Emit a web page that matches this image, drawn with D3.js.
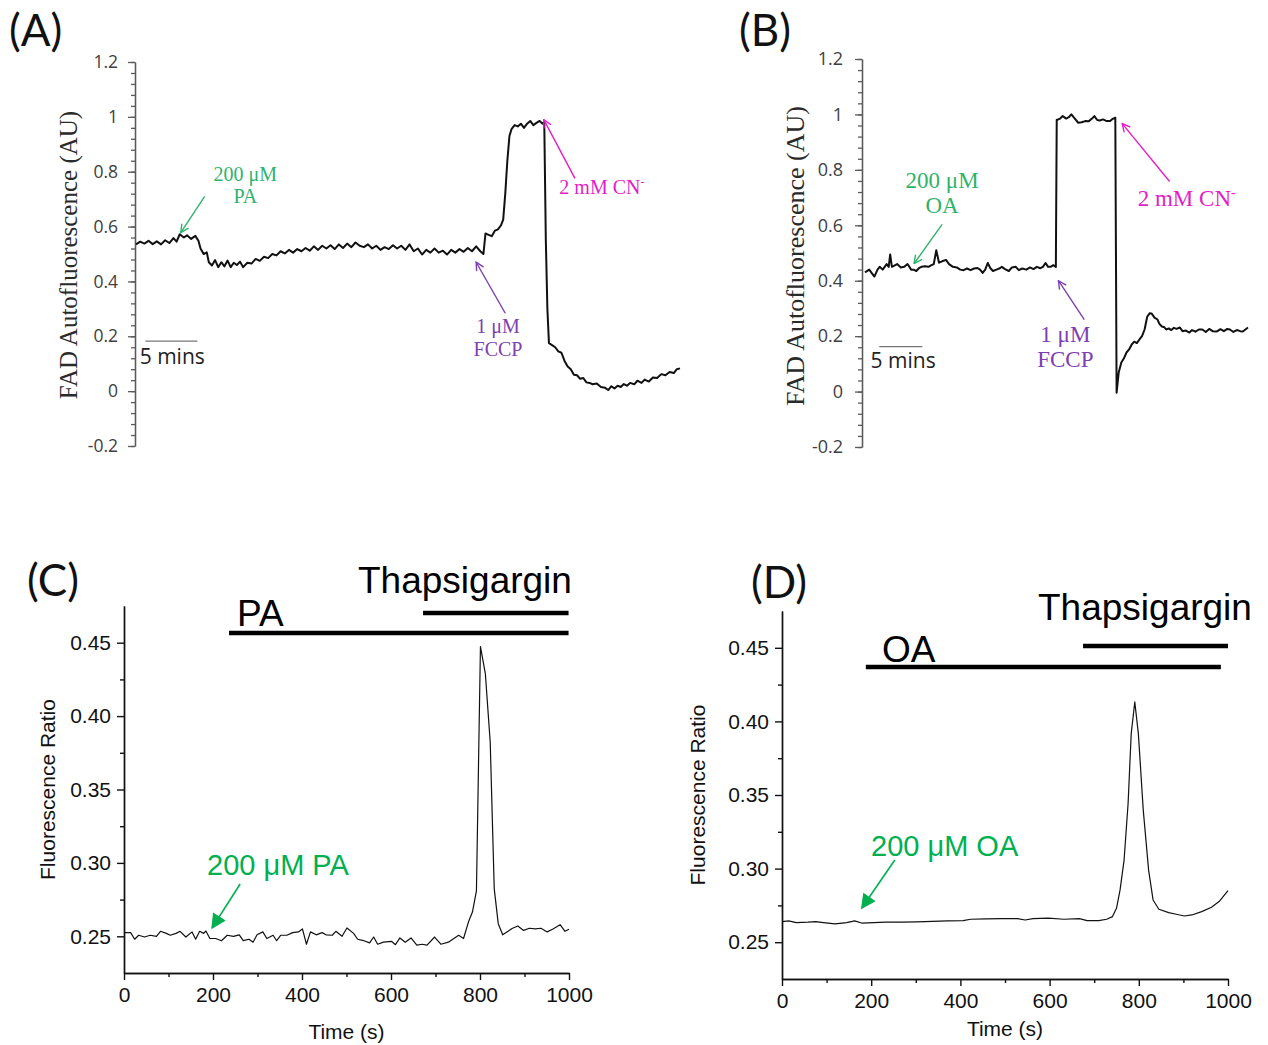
<!DOCTYPE html>
<html>
<head>
<meta charset="utf-8">
<title>FAD autofluorescence and Ca2+ ratio</title>
<script src="https://d3js.org/d3.v7.min.js"></script>
<style>
body { margin: 0; background: #fff; }
</style>
</head>
<body>
<div id="chart"></div>
<script>
// ---- panel A : FAD autofluorescence, PA (time in minutes) ----
const timeA = [0.1,0.5,0.9,1.3,1.7,2.1,2.5,2.9,3.3,3.7,4.0,4.3,4.7,5.0,5.4,5.8,6.1,6.3,6.6,6.9,7.1,7.4,7.7,8.0,8.3,8.6,8.9,9.2,9.5,9.8,
  10.1,10.4,10.8,11.2,11.6,12.0,12.4,12.8,13.2,13.6,14.0,14.4,14.8,15.2,15.6,16.0,16.4,16.8,17.2,17.6,18.0,18.4,18.8,19.2,19.6,20.0,20.4,20.8,21.2,21.6,
  22.0,22.4,22.8,23.2,23.6,24.0,24.4,24.8,25.2,25.6,26.0,26.4,26.8,27.2,27.6,28.0,28.4,28.8,29.2,29.6,30.0,30.4,30.8,31.2,31.6,32.0,32.4,32.8,33.2,33.5,
  33.7,34.0,34.3,34.6,34.9,35.2,35.4,35.6,35.8,36.0,36.2,36.5,36.8,37.1,37.4,37.7,38.0,38.3,38.6,38.9,39.2,39.35,39.5,39.65,39.8,40.1,40.4,40.7,41.0,41.3,
  41.6,41.9,42.2,42.5,42.8,43.1,43.4,43.7,44.0,44.4,44.8,45.2,45.5,45.8,46.1,46.4,46.7,47.0,47.3,47.6,48.0,48.3,48.7,49.0,49.4,49.8,50.2,50.6,51.0,51.4,
  51.8,52.1,52.4];
const fadA = [0.535,0.545,0.538,0.548,0.536,0.546,0.535,0.55,0.54,0.558,0.545,0.572,0.56,0.568,0.555,0.566,0.548,0.52,0.5,0.506,0.47,0.458,0.478,0.452,0.47,0.455,0.476,0.452,0.468,0.46,
  0.472,0.452,0.468,0.465,0.482,0.475,0.49,0.485,0.5,0.495,0.51,0.502,0.515,0.505,0.518,0.51,0.522,0.512,0.528,0.515,0.53,0.52,0.532,0.518,0.535,0.522,0.538,0.525,0.542,0.53,
  0.525,0.535,0.52,0.53,0.515,0.525,0.518,0.532,0.52,0.53,0.515,0.535,0.51,0.52,0.498,0.515,0.505,0.52,0.505,0.512,0.498,0.515,0.505,0.518,0.508,0.522,0.51,0.528,0.51,0.5,
  0.575,0.57,0.565,0.585,0.59,0.605,0.625,0.72,0.84,0.93,0.955,0.97,0.965,0.975,0.96,0.975,0.985,0.97,0.978,0.985,0.975,0.98,0.55,0.3,0.175,0.168,0.16,0.145,0.14,0.11,
  0.09,0.08,0.06,0.058,0.045,0.048,0.032,0.03,0.025,0.028,0.015,0.012,0.004,0.018,0.01,0.02,0.015,0.026,0.02,0.03,0.025,0.038,0.03,0.042,0.035,0.05,0.048,0.062,0.058,0.07,
  0.066,0.08,0.083];

// ---- panel B : FAD autofluorescence, OA (time in minutes) ----
const timeB = [0.35,0.84,1.2,1.44,1.8,2.05,2.4,2.86,3.1,3.27,3.47,3.8,4.08,4.5,4.88,5.29,5.7,6.0,6.3,6.6,6.9,7.3,7.72,8.0,8.33,8.62,8.94,9.3,9.75,10.1,
  10.56,11.0,11.4,11.78,12.2,12.6,13.0,13.4,13.7,14.0,14.3,14.6,14.9,15.2,15.6,16.0,16.23,16.6,17.04,17.4,17.85,18.2,18.6,19.07,19.5,19.9,20.3,20.7,21.0,21.3,
  21.6,21.9,22.2,22.5,22.6,23.0,23.3,23.7,24.0,24.3,24.7,25.1,25.5,25.9,26.3,26.7,26.97,27.3,27.6,27.98,28.4,28.8,29.1,29.4,29.55,29.8,30.1,30.4,30.7,31.0,
  31.3,31.6,31.9,32.2,32.5,32.8,33.1,33.4,33.6,33.95,34.3,34.5,34.8,35.1,35.3,35.6,35.9,36.2,36.5,36.9,37.2,37.6,38.0,38.3,38.7,39.1,39.5,39.9,40.3,40.7,
  41.2,41.6,42.0,42.4,42.7,43.1,43.5,43.9,44.2,44.5,44.8];
const fadB = [0.43,0.44,0.425,0.415,0.44,0.45,0.44,0.46,0.45,0.495,0.45,0.455,0.46,0.448,0.45,0.46,0.44,0.44,0.435,0.445,0.45,0.452,0.45,0.455,0.46,0.51,0.465,0.47,0.475,0.46,
  0.45,0.448,0.44,0.438,0.444,0.438,0.444,0.446,0.44,0.428,0.44,0.464,0.445,0.435,0.44,0.445,0.45,0.442,0.435,0.448,0.45,0.438,0.444,0.44,0.448,0.442,0.45,0.445,0.45,0.464,
  0.45,0.45,0.456,0.45,0.98,0.985,0.994,0.985,0.99,1.0,0.985,0.97,0.972,0.976,0.975,0.985,0.994,0.98,0.978,0.982,0.976,0.976,0.984,0.988,-0.004,0.07,0.105,0.12,0.141,0.152,
  0.17,0.18,0.175,0.188,0.2,0.224,0.27,0.283,0.282,0.267,0.26,0.245,0.235,0.232,0.224,0.228,0.222,0.23,0.226,0.231,0.218,0.22,0.213,0.222,0.216,0.224,0.224,0.215,0.226,0.218,
  0.217,0.225,0.218,0.226,0.224,0.215,0.222,0.218,0.217,0.224,0.231];

// ---- panel C : Fluorescence ratio, PA (time in s) ----
const timeC = [2,15,24,33,46,59,73,82,95,104,117,126,139,153,161,170,179,184,193,206,219,232,246,259,268,281,290,299,312,321,
  335,343,352,366,379,392,401,410,419,432,445,454,468,476,490,501,516,525,539,552,561,570,583,601,610,620,632,645,658,670,
  681,698,712,729,752,763,774,783,792,801,812,823,832,841,851,863,872,885,898,911,924,937,951,964,980,991,1000];
const ratioC = [0.2525,0.2525,0.248,0.2507,0.2495,0.2507,0.25,0.2534,0.252,0.2507,0.252,0.2534,0.2495,0.253,0.248,0.2534,0.252,0.2536,0.2485,0.2485,0.247,0.2507,0.25,0.251,0.247,0.248,0.246,0.251,0.253,0.2485,
  0.2507,0.247,0.2507,0.2507,0.2525,0.253,0.255,0.2446,0.253,0.251,0.2525,0.251,0.2507,0.2534,0.25,0.2557,0.252,0.248,0.247,0.2455,0.2495,0.2446,0.246,0.2466,0.2443,0.2489,0.246,0.2489,0.244,0.2446,
  0.244,0.2495,0.2446,0.246,0.2507,0.2485,0.2597,0.2665,0.281,0.4473,0.429,0.382,0.2823,0.2586,0.251,0.2534,0.2553,0.257,0.254,0.2555,0.255,0.2555,0.253,0.255,0.2579,0.2534,0.2548];

// ---- panel D : Fluorescence ratio, OA (time in s) ----
const timeD = [0,15,32,58,76,93,119,145,163,180,206,232,267,302,337,371,406,423,458,493,528,545,563,597,632,667,684,710,728,741,
  750,758,767,776,783,791,799,810,822,832,845,867,884,902,919,941,963,980,1000];
const ratioD = [0.264,0.2645,0.2633,0.2636,0.264,0.2633,0.2624,0.2633,0.2645,0.2629,0.2633,0.2636,0.2636,0.2638,0.2642,0.2645,0.2647,0.2656,0.2658,0.266,0.266,0.2651,0.266,0.2663,0.2656,0.266,0.2647,0.2647,0.2656,0.2674,
  0.273,0.2855,0.3058,0.3442,0.3917,0.4132,0.3917,0.3397,0.299,0.2787,0.2724,0.2701,0.269,0.2678,0.2685,0.2708,0.2737,0.2776,0.285];

// ---- ticks ----
const fadTicks = [-0.2, 0, 0.2, 0.4, 0.6, 0.8, 1, 1.2];
const ratioTicks = [0.25, 0.30, 0.35, 0.40, 0.45];
const ratioMinor = [0.275, 0.325, 0.375, 0.425];
const timeTicks = [0, 200, 400, 600, 800, 1000];
const timeMinor = [100, 300, 500, 700, 900];

const svg = d3.select("#chart").append("svg")
  .attr("width", 1268).attr("height", 1045)
  .style("background", "#fff");

const green = "#2fb36b", purple = "#7d3fb2", magenta = "#e21fc4", brightGreen = "#00b050";

const defs = svg.append("defs");
function openHead(id, color) {
  defs.append("marker").attr("id", id)
    .attr("viewBox", "0 0 10 10").attr("refX", 9).attr("refY", 5)
    .attr("markerWidth", 10).attr("markerHeight", 10)
    .attr("markerUnits", "userSpaceOnUse").attr("orient", "auto")
    .append("path").attr("d", "M1,1 L9,5 L1,9")
    .attr("fill", "none").attr("stroke", color).attr("stroke-width", 1.4);
}
openHead("hGreen", green);
openHead("hPurple", purple);
openHead("hMagenta", magenta);
defs.append("marker").attr("id", "hFill")
  .attr("viewBox", "0 0 10 10").attr("refX", 9).attr("refY", 5)
  .attr("markerWidth", 17).attr("markerHeight", 15)
  .attr("markerUnits", "userSpaceOnUse").attr("orient", "auto")
  .append("path").attr("d", "M0,0 L10,5 L0,10 Z").attr("fill", brightGreen);

function panelLetter(txt, x, y) {
  svg.append("text").attr("x", x).attr("y", y).text(txt)
    .style("font-family", "Lato, 'Open Sans', sans-serif").style("font-size", "44px").attr("fill", "#111");
}

// FAD autofluorescence panels (A, B)
function drawFad(o) {
  const x = d3.scaleLinear().domain([0, o.tMax]).range([o.x0, o.x1]);
  const y = d3.scaleLinear().domain([-0.2, 1.2]).range([o.yB, o.yT]);
  const g = svg.append("g");

  g.append("g").attr("transform", `translate(${o.x0},0)`)
    .call(d3.axisLeft(y).tickValues(d3.range(-0.2, 1.2001, 0.04)).tickSize(4).tickSizeOuter(0).tickFormat(""));
  const major = g.append("g").attr("transform", `translate(${o.x0},0)`)
    .call(d3.axisLeft(y).tickValues(fadTicks).tickSize(7).tickSizeOuter(0).tickPadding(o.pad)
      .tickFormat(d => String(+d.toFixed(1))));
  g.selectAll(".domain, .tick line").attr("stroke", "#5a5a5a").attr("stroke-width", 1.3);
  major.selectAll("text").attr("fill", "#404040")
    .style("font-family", "'Open Sans', sans-serif").style("font-size", o.tickFs + "px");

  g.append("text")
    .attr("transform", `translate(${o.labX},${o.labY}) rotate(-90)`)
    .attr("text-anchor", "middle").attr("dominant-baseline", "central")
    .style("font-family", "'Liberation Serif', serif").style("font-size", o.labFs + "px")
    .attr("fill", "#2a2a2a").text("FAD Autofluorescence (AU)");

  g.append("path").datum(o.vals)
    .attr("fill", "none").attr("stroke", "#111").attr("stroke-width", 2)
    .attr("stroke-linejoin", "round")
    .attr("d", d3.line().x((d, i) => x(o.times[i])).y(d => y(d)));

  // 5 min scale bar
  g.append("line").attr("x1", x(o.bar[0])).attr("x2", x(o.bar[0] + 5))
    .attr("y1", y(o.bar[1])).attr("y2", y(o.bar[1]))
    .attr("stroke", "#777").attr("stroke-width", 1.2);
  g.append("text").attr("x", x(o.barText[0])).attr("y", y(o.barText[1]))
    .style("font-family", "'Open Sans', sans-serif").style("font-size", o.barFs + "px")
    .attr("fill", "#222").text("5 mins");

  // annotations
  o.notes.forEach(n => {
    g.append("line")
      .attr("x1", x(n.from[0])).attr("y1", y(n.from[1]))
      .attr("x2", x(n.to[0])).attr("y2", y(n.to[1]))
      .attr("stroke", n.color).attr("stroke-width", 1.4)
      .attr("marker-end", `url(#${n.head})`);
    n.lines.forEach((s, k) => {
      const t = g.append("text").attr("x", x(n.text[0])).attr("y", y(n.text[1]) + k * n.lh)
        .attr("text-anchor", n.anchor)
        .style("font-family", "'Liberation Serif', serif").style("font-size", o.noteFs + "px")
        .attr("fill", n.color).text(s);
      if (n.sup && k === 0) {
        t.append("tspan").attr("dy", -o.noteFs * 0.38).style("font-size", (o.noteFs * 0.6) + "px").text("-");
      }
    });
  });
}

drawFad({
  times: timeA, vals: fadA, tMax: 52.4, x0: 135, x1: 680, yB: 446, yT: 62,
  pad: 10, tickFs: 17.5, labX: 68, labY: 255, labFs: 25,
  bar: [1.0, 0.182], barText: [0.45, 0.1], barFs: 21, noteFs: 20,
  notes: [
    { from: [6.7, 0.71], to: [4.4, 0.578], color: green, head: "hGreen",
      text: [10.6, 0.765], lines: ["200 μM", "PA"], lh: 22, anchor: "middle" },
    { from: [35.6, 0.284], to: [32.8, 0.47], color: purple, head: "hPurple",
      text: [34.9, 0.212], lines: ["1 μM", "FCCP"], lh: 23, anchor: "middle" },
    { from: [42.3, 0.776], to: [39.3, 0.99], color: magenta, head: "hMagenta",
      text: [40.8, 0.72], lines: ["2 mM CN"], lh: 0, anchor: "start", sup: true }
  ]
});

drawFad({
  times: timeB, vals: fadB, tMax: 44.8, x0: 862, x1: 1248, yB: 447, yT: 59,
  pad: 12, tickFs: 18, labX: 795, labY: 256, labFs: 26,
  bar: [2.0, 0.162], barText: [1.0, 0.085], barFs: 21, noteFs: 23,
  notes: [
    { from: [9.3, 0.603], to: [6.05, 0.462], color: green, head: "hGreen",
      text: [9.3, 0.735], lines: ["200 μM", "OA"], lh: 25, anchor: "middle" },
    { from: [25.8, 0.26], to: [22.8, 0.40], color: purple, head: "hPurple",
      text: [23.6, 0.18], lines: ["1 μM", "FCCP"], lh: 25, anchor: "middle" },
    { from: [35.7, 0.758], to: [30.2, 0.967], color: magenta, head: "hMagenta",
      text: [32.0, 0.67], lines: ["2 mM CN"], lh: 0, anchor: "start", sup: true }
  ]
});

// Fluorescence ratio panels (C, D)
function drawRatio(o) {
  const x = d3.scaleLinear().domain([0, 1000]).range([o.x0, o.x1]);
  const y = d3.scaleLinear().domain([0.225, 0.475]).range([o.yB, o.yT]);
  const g = svg.append("g").style("font-family", "'Liberation Sans', Arial, sans-serif");

  g.append("g").attr("transform", `translate(0,${o.yB})`)
    .call(d3.axisBottom(x).tickValues(timeMinor).tickSize(4).tickSizeOuter(0).tickFormat(""));
  g.append("g").attr("transform", `translate(0,${o.yB})`)
    .call(d3.axisBottom(x).tickValues(timeTicks).tickSize(7).tickSizeOuter(0).tickPadding(7).tickFormat(d3.format("d")));
  g.append("g").attr("transform", `translate(${o.x0},0)`)
    .call(d3.axisLeft(y).tickValues(ratioMinor).tickSize(4).tickSizeOuter(0).tickFormat(""));
  g.append("g").attr("transform", `translate(${o.x0},0)`)
    .call(d3.axisLeft(y).tickValues(ratioTicks).tickSize(7).tickSizeOuter(0).tickPadding(6).tickFormat(d3.format(".2f")));
  g.selectAll(".domain, .tick line").attr("stroke", "#111").attr("stroke-width", 1.4);
  g.selectAll(".tick text").attr("fill", "#111").style("font-size", "21px")
    .style("font-family", "'Liberation Sans', Arial, sans-serif");

  g.append("text").attr("x", (o.x0 + o.x1) / 2).attr("y", o.yB + o.timeDy)
    .attr("text-anchor", "middle").style("font-size", "21px").attr("fill", "#111").text("Time (s)");
  g.append("text")
    .attr("transform", `translate(${o.labX},${(o.yT + o.yB) / 2}) rotate(-90)`)
    .attr("text-anchor", "middle").attr("dominant-baseline", "central")
    .style("font-size", "21px").attr("fill", "#111").text("Fluorescence Ratio");

  g.append("path").datum(o.vals)
    .attr("fill", "none").attr("stroke", "#111").attr("stroke-width", 1.2)
    .attr("stroke-linejoin", "round")
    .attr("d", d3.line().x((d, i) => x(o.times[i])).y(d => y(d)));

  // treatment bars
  o.treat.forEach(t => {
    g.append("line").attr("x1", x(t.start)).attr("x2", x(t.end))
      .attr("y1", t.barY).attr("y2", t.barY)
      .attr("stroke", "#000").attr("stroke-width", 4.5);
    g.append("text").attr("x", t.textX).attr("y", t.textY)
      .style("font-size", "37px").attr("fill", "#000").text(t.label);
  });

  // green arrow annotation
  g.append("line")
    .attr("x1", x(o.arrow.from[0])).attr("y1", y(o.arrow.from[1]))
    .attr("x2", x(o.arrow.to[0])).attr("y2", y(o.arrow.to[1]))
    .attr("stroke", brightGreen).attr("stroke-width", 1.6).attr("marker-end", "url(#hFill)");
  g.append("text").attr("x", o.noteX).attr("y", o.noteY)
    .style("font-size", "29px").attr("fill", brightGreen).text(o.note);
}

drawRatio({
  times: timeC, vals: ratioC, x0: 124, x1: 569, yB: 973, yT: 606, labX: 47, timeDy: 66,
  treat: [
    { label: "PA", start: 236, end: 999, barY: 633, textX: 237, textY: 626 },
    { label: "Thapsigargin", start: 672, end: 999, barY: 613, textX: 358, textY: 593 }
  ],
  arrow: { from: [261, 0.2856], to: [198, 0.2557] },
  note: "200 μM PA", noteX: 207, noteY: 875
});

drawRatio({
  times: timeD, vals: ratioD, x0: 782, x1: 1228, yB: 979, yT: 611, labX: 697, timeDy: 57,
  treat: [
    { label: "OA", start: 188, end: 984, barY: 667, textX: 882, textY: 662 },
    { label: "Thapsigargin", start: 675, end: 1000, barY: 646, textX: 1038, textY: 620 }
  ],
  arrow: { from: [253, 0.3058], to: [179, 0.2732] },
  note: "200 μM OA", noteX: 871, noteY: 856
});

panelLetter("(A)", 9, 46);
panelLetter("(B)", 739, 46);
panelLetter("(C)", 27, 596);
panelLetter("(D)", 751, 598);
</script>
</body>
</html>
